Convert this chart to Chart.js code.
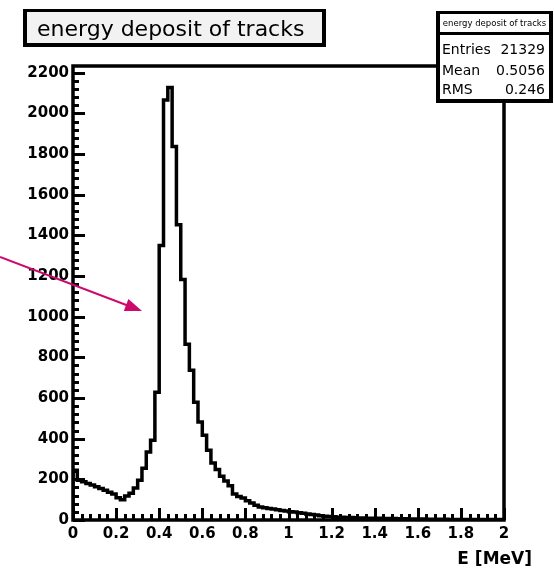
<!DOCTYPE html>
<html>
<head>
<meta charset="utf-8">
<script src="https://cdn.jsdelivr.net/npm/chart.js@4.4.1/dist/chart.umd.min.js"></script>
<style>
  html, body { margin: 0; padding: 0; background: #fff; }
  #wrap { width: 554px; height: 571px; }
</style>
</head>
<body>
<div id="wrap"><canvas id="hist" width="554" height="571"></canvas></div>
<script>
// histogram data (100 bins, 0..2 MeV)
var histTitle = 'energy deposit of tracks';
var xTitle = 'E [MeV]';
var xMin = 0, xMax = 2, binWidth = 0.02;
var counts = [
  245, 195, 188, 180, 172, 163, 155, 146, 137, 128,
  110, 100, 118, 132, 157, 196, 255, 334, 392, 628,
  1350, 2066, 2127, 1837, 1452, 1183, 865, 736, 579, 482,
  417, 343, 280, 248, 215, 192, 168, 128, 116, 108,
  95, 83, 72, 64, 60, 57, 54, 50, 47, 44,
  41, 39, 36, 33, 30, 27, 24, 21, 19, 17,
  16, 14, 13, 12, 12, 11, 10, 10, 9, 9,
  8, 8, 7, 7, 7, 6, 6, 6, 5, 5,
  5, 5, 4, 4, 4, 4, 4, 3, 3, 3,
  3, 3, 3, 2, 2, 2, 2, 2, 2, 2
];
var yTicks = [0, 200, 400, 600, 800, 1000, 1200, 1400, 1600, 1800, 2000, 2200];
var xTicks = [0, 0.2, 0.4, 0.6, 0.8, 1, 1.2, 1.4, 1.6, 1.8, 2];
var yMax = 2233;
var yMinorStep = 40, xMinorStep = 0.04;
var statNames = ['Entries', 'Mean', 'RMS'];
var statValues = ['21329', '0.5056', '0.246'];

var points = [{x: xMin, y: 0}];
for (var i = 0; i < counts.length; i++) {
  points.push({x: xMin + i * binWidth, y: counts[i]});
}
points.push({x: xMax, y: counts[counts.length - 1]});
points.push({x: xMax, y: 0});

var labelFont = {family: '"DejaVu Sans"', size: 15, weight: 'bold'};

// ROOT-like frame, inward ticks, boxes and arrow
var rootDecor = {
  id: 'rootDecor',
  afterDatasetsDraw: function(chart) {
    var ctx = chart.ctx, a = chart.chartArea;
    var xs = chart.scales.x, ys = chart.scales.y;
    ctx.save();
    ctx.strokeStyle = '#000';
    ctx.lineWidth = 3.5;
    ctx.strokeRect(a.left, a.top, a.right - a.left, a.bottom - a.top);

    ctx.lineWidth = 3;
    ctx.beginPath();
    for (var v = 0; v <= yMax; v += yMinorStep) {
      var py = Math.round(ys.getPixelForValue(v)) + 0.5;
      var len = (v % 200 === 0) ? 12 : 6;
      ctx.moveTo(a.left, py);
      ctx.lineTo(a.left + len, py);
    }
    for (var k = 0; k <= 50; k++) {
      var xv = k * xMinorStep;
      var px = Math.round(xs.getPixelForValue(xv)) + 0.5;
      var l2 = (k % 5 === 0) ? 12 : 6;
      ctx.moveTo(px, a.bottom);
      ctx.lineTo(px, a.bottom - l2);
    }
    ctx.stroke();
    ctx.restore();
  },
  afterDraw: function(chart) {
    var ctx = chart.ctx;
    ctx.save();

    // title box
    ctx.fillStyle = '#000';
    ctx.fillRect(23, 9, 303, 38);
    ctx.fillStyle = '#f2f2f2';
    ctx.fillRect(27, 12, 295, 31);
    ctx.fillStyle = '#000';
    ctx.font = '22px "DejaVu Sans"';
    ctx.textAlign = 'left';
    ctx.textBaseline = 'alphabetic';
    ctx.fillText(histTitle, 37, 36);

    // stats box
    ctx.fillStyle = '#000';
    ctx.fillRect(436, 11, 117, 92);
    ctx.fillStyle = '#fff';
    ctx.fillRect(440, 14, 109, 18);
    ctx.fillRect(440, 35, 109, 64);
    ctx.fillStyle = '#000';
    ctx.font = '8.5px "DejaVu Sans"';
    ctx.textAlign = 'center';
    ctx.fillText(histTitle, 494.5, 26);
    ctx.font = '14px "DejaVu Sans"';
    var base = [54, 75, 94];
    for (var r = 0; r < statNames.length; r++) {
      ctx.textAlign = 'left';
      ctx.fillText(statNames[r], 442, base[r]);
      ctx.textAlign = 'right';
      ctx.fillText(statValues[r], 545, base[r]);
    }

    // x axis title
    ctx.font = 'bold 17px "DejaVu Sans"';
    ctx.textAlign = 'right';
    ctx.fillText(xTitle, 532, 564);

    // arrow
    var x0 = 0, y0 = 257, x1 = 142, y1 = 311;
    var ang = Math.atan2(y1 - y0, x1 - x0);
    ctx.strokeStyle = '#cc0a6e';
    ctx.fillStyle = '#cc0a6e';
    ctx.lineWidth = 2;
    ctx.beginPath();
    ctx.moveTo(x0, y0);
    ctx.lineTo(x1 - 14 * Math.cos(ang), y1 - 14 * Math.sin(ang));
    ctx.stroke();
    ctx.beginPath();
    ctx.moveTo(x1, y1);
    ctx.lineTo(x1 - 17 * Math.cos(ang) + 6.5 * Math.sin(ang), y1 - 17 * Math.sin(ang) - 6.5 * Math.cos(ang));
    ctx.lineTo(x1 - 17 * Math.cos(ang) - 6.5 * Math.sin(ang), y1 - 17 * Math.sin(ang) + 6.5 * Math.cos(ang));
    ctx.closePath();
    ctx.fill();
    ctx.restore();
  }
};

new Chart(document.getElementById('hist'), {
  type: 'line',
  data: {
    datasets: [{
      data: points,
      borderColor: '#000',
      borderWidth: 3.5,
      pointRadius: 0,
      fill: false,
      stepped: 'before'
    }]
  },
  options: {
    responsive: false,
    animation: false,
    devicePixelRatio: 1,
    layout: { padding: { top: 66, right: 50, left: 0, bottom: 0 } },
    plugins: {
      legend: { display: false },
      tooltip: { enabled: false }
    },
    scales: {
      x: {
        type: 'linear',
        min: xMin,
        max: xMax,
        grid: { display: false, drawTicks: false },
        border: { display: false },
        afterBuildTicks: function(s) { s.ticks = xTicks.map(function(v) { return {value: v}; }); },
        afterFit: function(s) { s.height = 51; },
        ticks: {
          autoSkip: false,
          maxRotation: 0,
          padding: 5,
          color: '#000',
          font: labelFont,
          callback: function(v) { return String(Math.round(v * 10) / 10); }
        }
      },
      y: {
        min: 0,
        max: yMax,
        grid: { display: false, drawTicks: false },
        border: { display: false },
        afterBuildTicks: function(s) { s.ticks = yTicks.map(function(v) { return {value: v}; }); },
        afterFit: function(s) { s.width = 73; },
        ticks: {
          autoSkip: false,
          padding: 4,
          color: '#000',
          font: labelFont,
          callback: function(v) { return String(v); }
        }
      }
    }
  },
  plugins: [rootDecor]
});
</script>
</body>
</html>
